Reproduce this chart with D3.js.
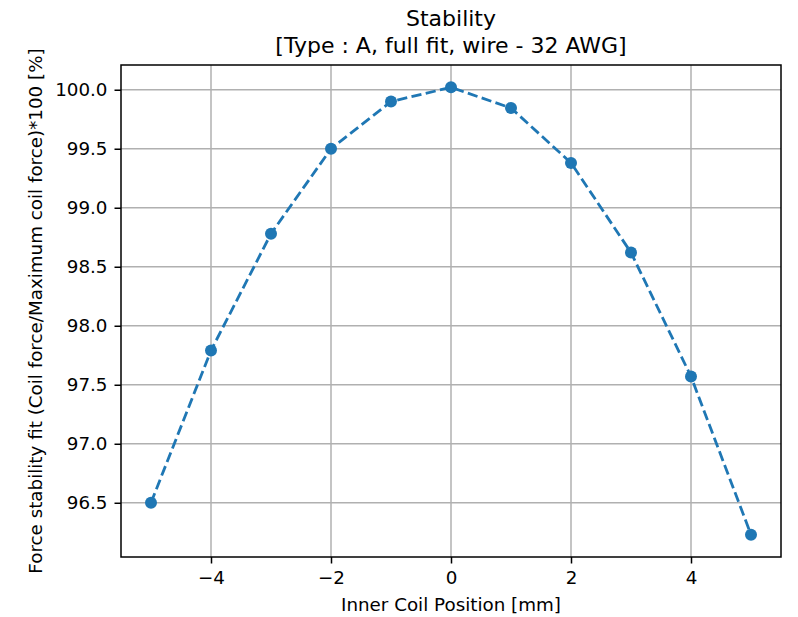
<!DOCTYPE html>
<html>
<head>
<meta charset="utf-8">
<script src="https://cdn.jsdelivr.net/npm/d3@7/dist/d3.min.js"></script>
<style>
  body { margin: 0; background: #fff; }
  text { font-family: "DejaVu Sans", sans-serif; fill: #000; }
</style>
</head>
<body>
<div id="chart"></div>
<script>
var w = 798;
var h = 617;

// inner coil position [mm] and force stability [%]
var positions = [-5, -4, -3, -2, -1, 0, 1, 2, 3, 4, 5];
var stability = [96.50, 97.79, 98.78, 99.50, 99.90, 100.02, 99.845, 99.38, 98.62, 97.57, 96.23];
var xTicks = [-4, -2, 0, 2, 4];
var yTicks = [96.5, 97.0, 97.5, 98.0, 98.5, 99.0, 99.5, 100.0];

var plotLeft = 121, plotRight = 781, plotTop = 65, plotBottom = 557;
var color = '#1f77b4';
var fontSize = 18.3;

var svg = d3.select('#chart')
  .append('svg')
  .attr('width', w)
  .attr('height', h);

var x = d3.scaleLinear().domain([-5.5, 5.5]).range([plotLeft, plotRight]);
var yMin = d3.min(stability), yMax = d3.max(stability);
var pad = (yMax - yMin) * 0.05;
var y = d3.scaleLinear().domain([yMin - pad, yMax + pad]).range([plotBottom, plotTop]);

// grid
svg.append('g')
  .selectAll('line')
  .data(xTicks)
  .enter().append('line')
  .attr('x1', function(d) { return x(d); })
  .attr('x2', function(d) { return x(d); })
  .attr('y1', plotTop)
  .attr('y2', plotBottom)
  .attr('stroke', '#b0b0b0')
  .attr('stroke-width', 1.5);

svg.append('g')
  .selectAll('line')
  .data(yTicks)
  .enter().append('line')
  .attr('x1', plotLeft)
  .attr('x2', plotRight)
  .attr('y1', function(d) { return y(d); })
  .attr('y2', function(d) { return y(d); })
  .attr('stroke', '#b0b0b0')
  .attr('stroke-width', 1.5);

// axes
var xAxis = svg.append('g')
  .attr('transform', 'translate(0,' + plotBottom + ')')
  .call(d3.axisBottom(x).tickValues(xTicks).tickSize(6.5).tickPadding(8)
    .tickFormat(function(d) { return d < 0 ? '\u2212' + Math.abs(d) : d; }));

var yAxis = svg.append('g')
  .attr('transform', 'translate(' + plotLeft + ',0)')
  .call(d3.axisLeft(y).tickValues(yTicks).tickSize(6.5).tickPadding(7)
    .tickFormat(d3.format('.1f')));

[xAxis, yAxis].forEach(function(a) {
  a.select('.domain').remove();
  a.selectAll('line').attr('stroke', '#000').attr('stroke-width', 1.5);
  a.selectAll('text').attr('font-size', fontSize).attr('font-family', 'DejaVu Sans').attr('fill', '#000');
});

svg.append('rect')
  .attr('x', plotLeft)
  .attr('y', plotTop)
  .attr('width', plotRight - plotLeft)
  .attr('height', plotBottom - plotTop)
  .attr('fill', 'none')
  .attr('stroke', '#000')
  .attr('stroke-width', 1.5);

// data line
var line = d3.line()
  .x(function(d, i) { return x(positions[i]); })
  .y(function(d) { return y(d); });

svg.append('path')
  .datum(stability)
  .attr('d', line)
  .attr('fill', 'none')
  .attr('stroke', color)
  .attr('stroke-width', 2.8)
  .attr('stroke-dasharray', '10.2,4.4');

svg.append('g')
  .selectAll('circle')
  .data(stability)
  .enter().append('circle')
  .attr('cx', function(d, i) { return x(positions[i]); })
  .attr('cy', function(d) { return y(d); })
  .attr('r', 6)
  .attr('fill', color);

// labels
svg.append('text')
  .attr('x', (plotLeft + plotRight) / 2)
  .attr('y', 26)
  .attr('text-anchor', 'middle')
  .attr('font-size', 22)
  .text('Stability');

svg.append('text')
  .attr('x', (plotLeft + plotRight) / 2)
  .attr('y', 52.5)
  .attr('text-anchor', 'middle')
  .attr('font-size', 22)
  .text('[Type : A, full fit, wire - 32 AWG]');

svg.append('text')
  .attr('x', (plotLeft + plotRight) / 2)
  .attr('y', 611)
  .attr('text-anchor', 'middle')
  .attr('font-size', fontSize)
  .text('Inner Coil Position [mm]');

svg.append('text')
  .attr('transform', 'translate(42,' + ((plotTop + plotBottom) / 2) + ') rotate(-90)')
  .attr('text-anchor', 'middle')
  .attr('font-size', fontSize)
  .text('Force stability fit (Coil force/Maximum coil force)*100 [%]');
</script>
</body>
</html>
